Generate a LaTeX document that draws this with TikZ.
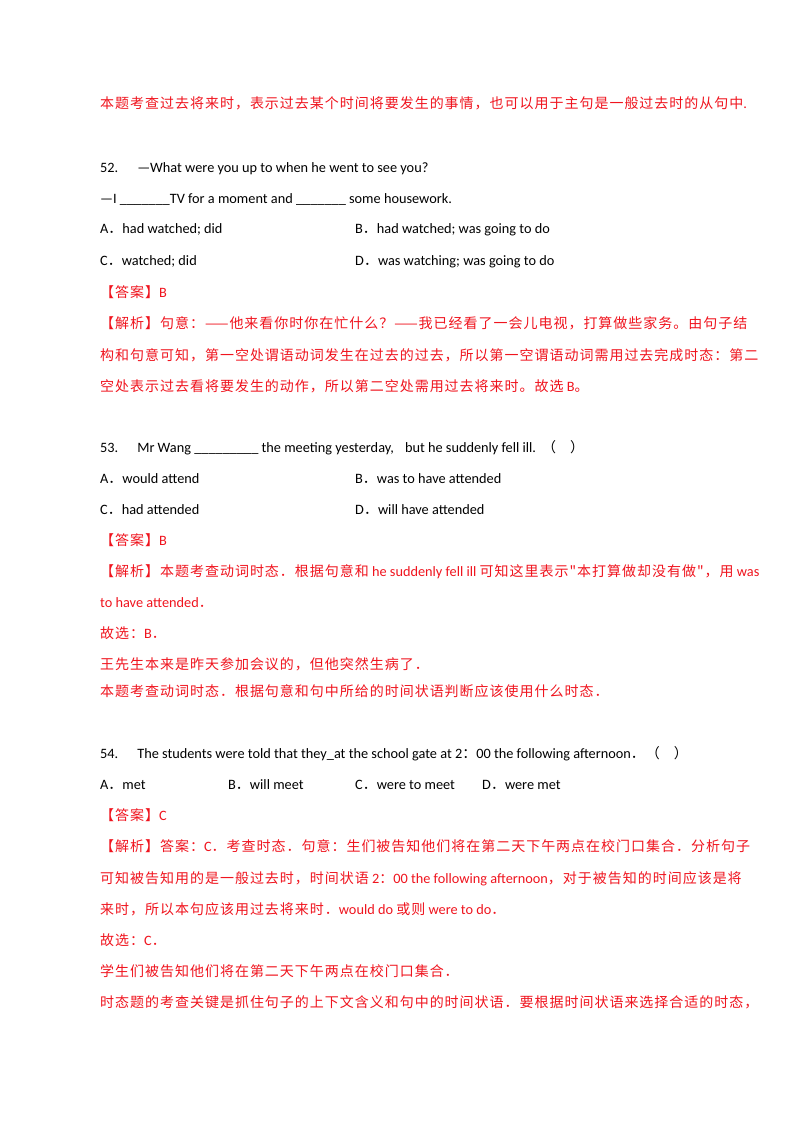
\documentclass[tikz,border=0pt]{standalone}
\usepackage{fontspec}
\setmainfont{Carlito}
\newfontfamily\zh{Noto Sans CJK SC}
\definecolor{ansred}{RGB}{240,20,30}
\begin{document}
\begin{tikzpicture}[x=1pt,y=-1pt,
  txt/.style={anchor=base west,inner sep=0pt,font=\fontsize{14.3}{16}\selectfont},
  red/.style={txt,text=ansred}]
\useasboundingbox[fill=white] (0,0) rectangle (800,1132);
\newcommand\Z[1]{{\zh\fontsize{14}{16}\selectfont\addfontfeature{LetterSpace=7}#1}}
\node[red] (l1) at (100,108) {\Z{本题考查过去将来时，表示过去某个时间将要发生的事情，也可以用于主句是一般过去时的从句中}.};
\node[txt] (q52) at (100,172) {52.\hspace{19pt}—What were you up to when he went to see you?};
\node[txt] (q52b) at (100,203) {—I \_\_\_\_\_\_\_TV for a moment and \_\_\_\_\_\_\_ some housework.};
\node[txt] (a52) at (100,233) {A\Z{．}had watched; did};
\node[txt] (b52) at (355,233) {B\Z{．}had watched; was going to do};
\node[txt] (c52) at (100,265) {C\Z{．}watched; did};
\node[txt] (d52) at (355,265) {D\Z{．}was watching; was going to do};
\node[red] (k52) at (100,297) {\Z{【答案】}B};
\node[red] (j52a) at (100,328) {\Z{【解析】句意：——他来看你时你在忙什么？——我已经看了一会儿电视，打算做些家务。由句子结}};
\node[red] (j52b) at (100,360) {\Z{构和句意可知，第一空处谓语动词发生在过去的过去，所以第一空谓语动词需用过去完成时态：第二}};
\node[red] (j52c) at (100,391) {\Z{空处表示过去看将要发生的动作，所以第二空处需用过去将来时。故选} B\Z{。}};
\node[txt] (q53) at (100,452) {53.\hspace{19pt}Mr Wang \_\_\_\_\_\_\_\_\_ the meeting yesterday,\hspace{8pt} but he suddenly fell ill.\hspace{6pt}\Z{（\hspace{14pt}）}};
\node[txt] (a53) at (100,483) {A\Z{．}would attend};
\node[txt] (b53) at (355,483) {B\Z{．}was to have attended};
\node[txt] (c53) at (100,514) {C\Z{．}had attended};
\node[txt] (d53) at (355,514) {D\Z{．}will have attended};
\node[red] (k53) at (100,545) {\Z{【答案】}B};
\node[red] (j53a) at (100,576) {\Z{【解析】本题考查动词时态．根据句意和} he suddenly fell ill \Z{可知这里表示"本打算做却没有做"，用} was};
\node[red] (j53b) at (100,607) {to have attended\Z{．}};
\node[red] (j53c) at (100,638) {\Z{故选：}B\Z{．}};
\node[red] (j53d) at (100,669) {\Z{王先生本来是昨天参加会议的，但他突然生病了．}};
\node[red] (j53e) at (100,696) {\Z{本题考查动词时态．根据句意和句中所给的时间状语判断应该使用什么时态．}};
\node[txt] (q54) at (100,758) {54.\hspace{19pt}The students were told that they\_at the school gate at 2\Z{：}00 the following afternoon\Z{．（\hspace{14pt}）}};
\node[txt] (a54) at (100,789) {A\Z{．}met};
\node[txt] (b54) at (228,789) {B\Z{．}will meet};
\node[txt] (c54) at (355,789) {C\Z{．}were to meet};
\node[txt] (d54) at (482,789) {D\Z{．}were met};
\node[red] (k54) at (100,820) {\Z{【答案】}C};
\node[red] (j54a) at (100,851) {\Z{【解析】答案：}C\Z{．考查时态．句意：生们被告知他们将在第二天下午两点在校门口集合．分析句子}};
\node[red] (j54b) at (100,883) {\Z{可知被告知用的是一般过去时，时间状语} 2\Z{：}00 the following afternoon\Z{，对于被告知的时间应该是将}};
\node[red] (j54c) at (100,914) {\Z{来时，所以本句应该用过去将来时．}would do \Z{或则} were to do\Z{．}};
\node[red] (j54d) at (100,945) {\Z{故选：}C\Z{．}};
\node[red] (j54e) at (100,976) {\Z{学生们被告知他们将在第二天下午两点在校门口集合．}};
\node[red] (j54f) at (100,1007) {\Z{时态题的考查关键是抓住句子的上下文含义和句中的时间状语．要根据时间状语来选择合适的时态，}};
\end{tikzpicture}
\end{document}
